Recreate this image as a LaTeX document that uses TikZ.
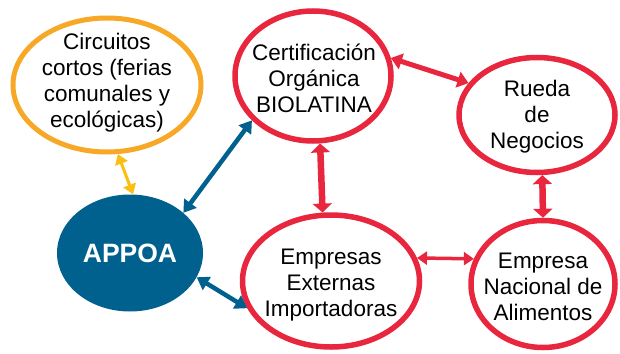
\documentclass[tikz,border=0pt]{standalone}
\usepackage{fontspec}
\setmainfont{Liberation Sans}
\usetikzlibrary{shapes.geometric,arrows.meta}
\definecolor{myred}{RGB}{232,38,62}
\definecolor{myblue}{RGB}{0,97,143}
\definecolor{myorange}{RGB}{247,168,38}
\definecolor{myyellow}{RGB}{250,190,20}
\tikzset{
  bub/.style={ellipse, draw=myred, line width=5.5pt, inner sep=0pt},
  obub/.style={bub, draw=myorange, line width=5pt},
  txt/.style={inner sep=0pt, align=center, font=\fontsize{22.5}{26}\selectfont},
  thinarr/.style={line width=3.5pt, {Triangle[length=10pt,width=13pt]}-{Triangle[length=10pt,width=13pt]}},
  bluearr/.style={line width=4.5pt, {Triangle[length=12pt,width=15pt]}-{Triangle[length=12pt,width=15pt]}},
  fatarr/.style={line width=6.5pt, {Triangle[length=9pt,width=19pt]}-{Triangle[length=9pt,width=19pt]}},
  midarr/.style={line width=5pt, {Triangle[length=11pt,width=16pt]}-{Triangle[length=11pt,width=16pt]}},
}
\begin{document}
\begin{tikzpicture}[x=1pt,y=-1pt]
\useasboundingbox (0,0) rectangle (620,353);
\node[obub, minimum width=188pt, minimum height=134pt] (circ) at (107,85) {};
\node[txt] (circT) at (107,83) {Circuitos\\cortos (ferias\\comunales y\\ecológicas)};
\node[ellipse, fill=myblue, inner sep=0pt, minimum width=146pt, minimum height=117pt] (appoa) at (130,253) {};
\node[inner sep=0pt, text=white, font=\fontsize{26.5}{30}\selectfont\bfseries] (appoaT) at (appoa) {APPOA};
\node[bub, minimum width=156pt, minimum height=130pt] (cert) at (313,76) {};
\node[txt] (certT) at (314,78) {Certificación\\Orgánica\\BIOLATINA};
\node[bub, minimum width=156pt, minimum height=115pt] (rueda) at (537,115) {};
\node[txt] (ruedaT) at (537,117) {Rueda\\de\\Negocios};
\node[bub, minimum width=177pt, minimum height=132pt] (ext) at (331,281) {};
\node[txt] (extT) at (331,285) {Empresas\\Externas\\Importadoras};
\node[bub, minimum width=144pt, minimum height=127pt] (nac) at (543,284) {};
\node[txt] (nacT) at (543,287) {Empresa\\Nacional de\\Alimentos};
\draw[thinarr, myyellow, line width=3pt] (circ.-81) -- (appoa.87);
\draw[bluearr, myblue] (appoa.37) -- (cert.216);
\draw[bluearr, myblue] (appoa.-20) -- (ext.198);
\draw[fatarr, myred] (cert.-84) -- (ext.97);
\draw[midarr, myred] (cert.13) -- (rueda.155);
\draw[fatarr, myred] (rueda.-85) -- (nac.90);
\draw[thinarr, myred] (ext.15) -- (nac.160);
\end{tikzpicture}
\end{document}
